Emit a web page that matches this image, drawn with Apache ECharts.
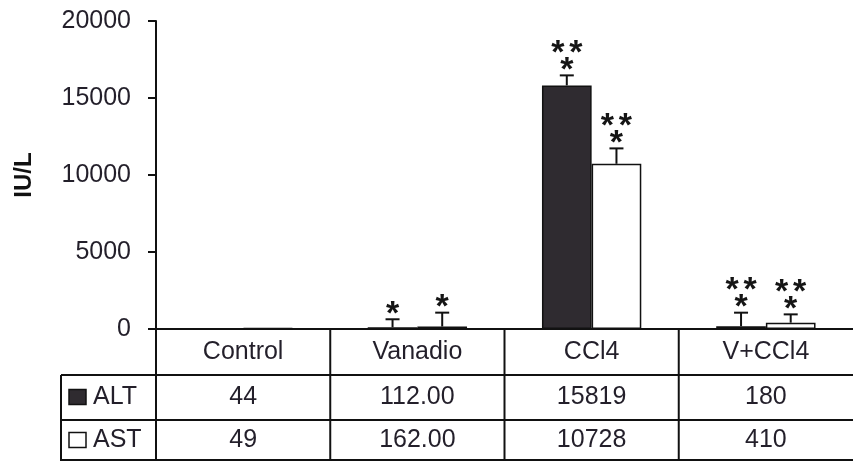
<!DOCTYPE html>
<html>
<head>
<meta charset="utf-8">
<script src="https://cdn.jsdelivr.net/npm/echarts@6/dist/echarts.min.js"></script>
<style>
  html, body { margin: 0; padding: 0; background: #fff; }
  #chart { width: 853px; height: 463px; }
</style>
</head>
<body>
<div id="chart"></div>
<script>
// Serum enzyme activity (IU/L) per treatment group
const categories = ['Control', 'Vanadio', 'CCl4', 'V+CCl4'];
const altValues = [44, 112, 15819, 180];
const astValues = [49, 162, 10728, 410];
const altLabels = ['44', '112.00', '15819', '180'];
const astLabels = ['49', '162.00', '10728', '410'];
const altErrors = [0, 520, 650, 880];
const astErrors = [0, 900, 1000, 540];
// significance marks, listed from the error cap upwards
const altMarks = [[], ['*'], ['*', '**'], ['*', '**']];
const astMarks = [[], ['*'], ['*', '**'], ['*', '**']];
const seriesNames = ['ALT', 'AST'];
const yTicks = [0, 5000, 10000, 15000, 20000];

const FONT = '"Liberation Sans", Arial, sans-serif';
const INK = '#231f2a';
const ALT_FILL = '#2f2b30';
const GAP = 0.43;

const chart = echarts.init(document.getElementById('chart'));

function errorSeries(values, errors, marks, side) {
  return {
    type: 'custom',
    z: 5,
    silent: true,
    data: values.map((v, i) => [i, v, errors[i]]),
    renderItem(params, api) {
      const i = api.value(0), v = api.value(1), e = api.value(2);
      const catW = api.size([1, 0])[0];
      const barW = catW * (1 - GAP) / 2;
      const top = api.coord([i, v]);
      const x = top[0] + side * barW / 2;
      const yCap = api.coord([i, v + e])[1];
      const children = [];
      const ls = { stroke: '#111', lineWidth: 2 };
      if (e > 0) {
        children.push({ type: 'line', shape: { x1: x, y1: top[1], x2: x, y2: yCap }, style: ls });
        children.push({ type: 'line', shape: { x1: x - 7, y1: yCap, x2: x + 7, y2: yCap }, style: ls });
      }
      const m = marks[i];
      m.forEach((s, k) => {
        const cy = yCap + 12 - k * 17;
        const n = s.length;
        for (let j = 0; j < n; j++) {
          const dx = (j - (n - 1) / 2) * 18;
          children.push({
            type: 'text',
            style: {
              text: '*', x: x + dx, y: cy,
              textAlign: 'center', textVerticalAlign: 'bottom',
              fontSize: 34, fontWeight: 'bold', fontFamily: FONT, fill: '#151515'
            }
          });
        }
      });
      return { type: 'group', children };
    }
  };
}

chart.setOption({
  animation: false,
  grid: { left: 156, top: 21, bottom: 134, width: 702 },
  xAxis: {
    type: 'category',
    data: categories,
    axisLine: { lineStyle: { color: '#111', width: 2 } },
    axisTick: { show: false },
    axisLabel: { show: false }
  },
  yAxis: {
    type: 'value',
    min: yTicks[0],
    max: yTicks[yTicks.length - 1],
    interval: 5000,
    name: 'IU/L',
    nameLocation: 'middle',
    nameRotate: 90,
    nameGap: 120,
    nameTextStyle: { fontSize: 24, fontWeight: 'bold', fontFamily: FONT, color: '#111' },
    axisLine: { show: true, lineStyle: { color: '#111', width: 2 } },
    axisTick: { show: true, length: 8, lineStyle: { color: '#111', width: 2 } },
    axisLabel: { margin: 25, fontSize: 25, fontFamily: FONT, color: INK, formatter: v => String(v) },
    splitLine: { show: false }
  },
  series: [
    {
      name: seriesNames[0], type: 'bar', data: altValues,
      barGap: 0, barCategoryGap: (GAP * 100) + '%',
      itemStyle: { color: ALT_FILL, borderColor: '#111', borderWidth: 1.5 }
    },
    {
      name: seriesNames[1], type: 'bar', data: astValues,
      barGap: 0, barCategoryGap: (GAP * 100) + '%',
      itemStyle: { color: '#fff', borderColor: '#111', borderWidth: 1.5 }
    },
    errorSeries(altValues, altErrors, altMarks, -1),
    errorSeries(astValues, astErrors, astMarks, 1)
  ]
});

// Data table under the axis: category row, then one row per series
const centers = categories.map((c, i) => chart.convertToPixel({ xAxisIndex: 0 }, i));
const catW = centers[1] - centers[0];
const axisX = centers[0] - catW / 2;
const baseY = chart.convertToPixel({ yAxisIndex: 0 }, 0);
const rowH = [46, 45, 41];
const r1 = baseY + rowH[0], r2 = r1 + rowH[1], r3 = r2 + rowH[2];
const tableLeft = 61;
const rightEdge = 853;

const lineStyle = { stroke: '#111', lineWidth: 2 };
const g = [];
function hline(x1, x2, y) { g.push({ type: 'line', shape: { x1, y1: y, x2, y2: y }, style: lineStyle }); }
function vline(x, y1, y2) { g.push({ type: 'line', shape: { x1: x, y1, x2: x, y2 }, style: lineStyle }); }
function cellText(text, x, y, align) {
  g.push({
    type: 'text',
    style: { text, x, y, textAlign: align || 'center', textVerticalAlign: 'middle',
             fontSize: 25, fontFamily: FONT, fill: INK }
  });
}

hline(tableLeft, rightEdge, r1);
hline(tableLeft, rightEdge, r2);
hline(tableLeft, rightEdge, r3 - 1);
vline(tableLeft, r1, r3);
vline(axisX, baseY, r3);
for (let i = 1; i < categories.length; i++) vline(axisX + i * catW, baseY, r3);

categories.forEach((c, i) => {
  cellText(c, centers[i], (baseY + r1) / 2);
  cellText(altLabels[i], centers[i], (r1 + r2) / 2);
  cellText(astLabels[i], centers[i], (r2 + r3) / 2);
});

// legend keys in the first column
[[ALT_FILL, (r1 + r2) / 2, seriesNames[0]], ['#fff', (r2 + r3) / 2, seriesNames[1]]].forEach(([fill, cy, name]) => {
  g.push({ type: 'rect', shape: { x: 69, y: cy - 8, width: 17, height: 15 },
           style: { fill, stroke: '#111', lineWidth: 1.5 } });
  cellText(name, 93, cy, 'left');
});

chart.setOption({ graphic: { elements: g } });
</script>
</body>
</html>
